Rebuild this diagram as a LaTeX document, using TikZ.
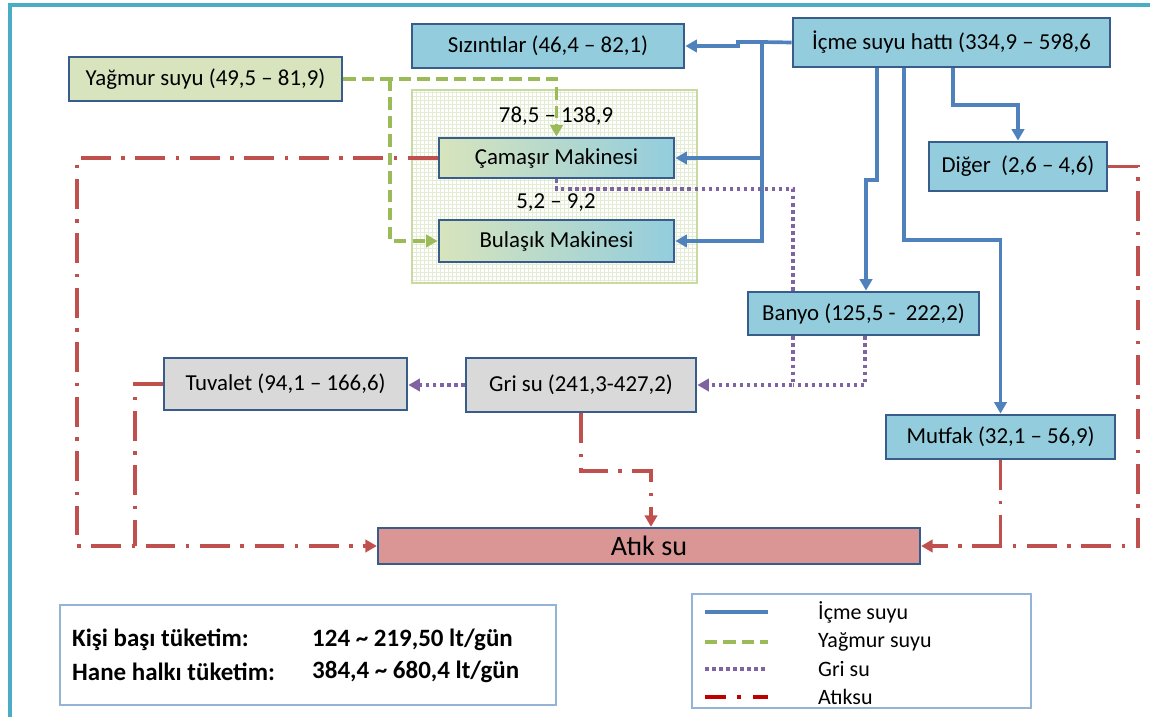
\documentclass[tikz,border=0pt]{standalone}
\usepackage{fontspec}
\setmainfont{Carlito}
\usetikzlibrary{arrows.meta}
\definecolor{boxblue}{RGB}{147,205,221}
\definecolor{boxedge}{RGB}{56,93,138}
\definecolor{boxgreen}{RGB}{215,228,189}
\definecolor{boxgray}{RGB}{217,217,217}
\definecolor{boxred}{RGB}{217,150,148}
\definecolor{lblue}{RGB}{79,129,189}
\definecolor{lgreen}{RGB}{155,187,89}
\definecolor{lpurple}{RGB}{128,100,162}
\definecolor{lred}{RGB}{192,80,77}
\definecolor{legred}{RGB}{192,0,0}
\definecolor{frameblue}{RGB}{75,172,198}
\definecolor{gridgreen}{RGB}{228,237,212}
\definecolor{gridedge}{RGB}{200,218,160}
\definecolor{legedge}{RGB}{149,179,215}
\begin{document}
\begin{tikzpicture}[x=.2mm,y=-.2mm,
  kutu/.style={draw=boxedge,line width=1.6pt,font=\fontsize{13}{15}\selectfont,inner sep=0pt},
  mavi/.style={kutu,fill=boxblue},
  yesil/.style={kutu,fill=boxgreen},
  gri/.style={kutu,fill=boxgray},
  gecis/.style={kutu,left color=boxgreen,right color=boxblue},
  etiket/.style={font=\fontsize{13}{15}\selectfont},
  ozet/.style={font=\fontsize{14.2}{16}\selectfont\bfseries,anchor=west},
  lejant/.style={font=\fontsize{12.5}{14}\selectfont,anchor=west},
  ucu/.style={-{Triangle[length=6.5pt,width=7pt]}},
  icmeline/.style={lblue,line width=2.1pt},
  yagline/.style={lgreen,line width=2.1pt,dash pattern=on 7pt off 3.5pt},
  griline/.style={lpurple,line width=2.1pt,dash pattern=on 2pt off 2pt},
  atikline/.style={lred,line width=2.1pt,dash pattern=on 17pt off 6pt on 2pt off 6pt}]
\useasboundingbox (0,0) rectangle (1150,717);
\draw[frameblue,line width=2pt] (10,717) |- (1150,5);
\fill[white] (412,90) rectangle (697,283);
\draw[gridgreen,step=.8mm,line width=.4pt] (412,90) grid (697,283);
\draw[gridedge,line width=1.4pt] (412,90) rectangle (697,283);
\node[mavi,minimum width=5.44cm,minimum height=.88cm] (siz) at (548,46) {Sızıntılar (46,4 – 82,1)};
\node[mavi,minimum width=6.34cm,minimum height=.98cm] (icme) at (951.5,42.5) {İçme suyu hattı (334,9 – 598,6};
\node[yesil,minimum width=5.46cm,minimum height=.88cm] (yag) at (205.5,79) {Yağmur suyu (49,5 – 81,9)};
\node[etiket] (camlbl) at (556,116) {78,5 – 138,9};
\node[gecis,minimum width=4.7cm,minimum height=.8cm] (cam) at (556.5,158) {Çamaşır Makinesi};
\node[etiket] (bullbl) at (556,203) {5,2 – 9,2};
\node[gecis,minimum width=4.7cm,minimum height=.84cm] (bul) at (556.5,241) {Bulaşık Makinesi};
\node[mavi,minimum width=3.56cm,minimum height=.98cm] (dig) at (1018,166.5) {Diğer~~(2,6 – 4,6)};
\node[mavi,minimum width=4.62cm,minimum height=.86cm] (ban) at (863.5,313.5) {Banyo (125,5 -~~222,2)};
\node[gri,minimum width=4.86cm,minimum height=1.04cm] (tuv) at (285.5,384) {Tuvalet (94,1 – 166,6)};
\node[gri,minimum width=4.6cm,minimum height=1.08cm] (grisu) at (581,385) {Gri su (241,3-427,2)};
\node[mavi,minimum width=4.58cm,minimum height=.88cm] (mut) at (1000.5,437) {Mutfak (32,1 – 56,9)};
\node[kutu,fill=boxred,line width=1.3pt,minimum width=10.84cm,minimum height=.72cm,font=\fontsize{16}{18}\selectfont] (atik) at (649,546) {Atık su};
\draw[icmeline,ucu] (icme.west) -- (762,42) |- (bul.east);
\draw[icmeline,ucu] (762,0 |- cam.east) -- (cam.east);
\draw[icmeline,ucu] (762,42) -- (738,42) |- (siz.east);
\draw[icmeline,ucu] (877,0 |- icme.south) -- (877,180) -| (866,0 |- ban.north);
\draw[icmeline,ucu] (904,0 |- icme.south) -- (904,240) -| (mut.north);
\draw[icmeline,ucu] (953,0 |- icme.south) -- (953,105) -| (dig.north);
\draw[yagline,ucu] (yag.east) -| (cam.north);
\draw[yagline,ucu] (390,0 |- yag.east) |- (bul.west);
\draw[griline] (cam.south) |- (793,189) -- (793,0 |- ban.north);
\draw[griline,ucu] (793,0 |- ban.south) |- (grisu.east);
\draw[griline] (865,0 |- ban.south) |- (793,385);
\draw[griline,ucu] (grisu.west) -- (tuv.east |- grisu.west);
\draw[atikline,ucu] (cam.west) -| (77,0 |- atik.west) -- (atik.west);
\draw[atikline] (tuv.west) -| (135,0 |- atik.west);
\draw[atikline,ucu] (grisu.south) |- (651,471) -- (651,0 |- atik.north);
\draw[atikline,ucu] (dig.east) -| (1138,0 |- atik.east) -- (atik.east);
\draw[atikline] (mut.south) -- (mut.south |- atik.east);
\draw[legedge,line width=1pt] (60,605) rectangle (556,705);
\node[ozet] (kisi) at (66,640) {Kişi başı tüketim:};
\node[ozet] (kisideger) at (306,640) {124 \textasciitilde{} 219,50 lt/gün};
\node[ozet] (hane) at (66,672) {Hane halkı tüketim:};
\node[ozet] (hanedeger) at (306,672) {384,4 \textasciitilde{} 680,4 lt/gün};
\draw[legedge,line width=1pt] (692,594) rectangle (1031,708);
\draw[icmeline] (705,612) -- (768,612);
\draw[yagline] (705,642) -- (768,642);
\draw[griline] (705,669) -- (766,669);
\draw[legred,line width=2.2pt,dash pattern=on 12pt off 6pt on 2.5pt off 7pt] (705,697) -- (768,697);
\node[lejant] (lic) at (812,612) {İçme suyu};
\node[lejant] (lyag) at (812,642) {Yağmur suyu};
\node[lejant] (lgri) at (812,669) {Gri su};
\node[lejant] (latik) at (812,697) {Atıksu};
\end{tikzpicture}
\end{document}
